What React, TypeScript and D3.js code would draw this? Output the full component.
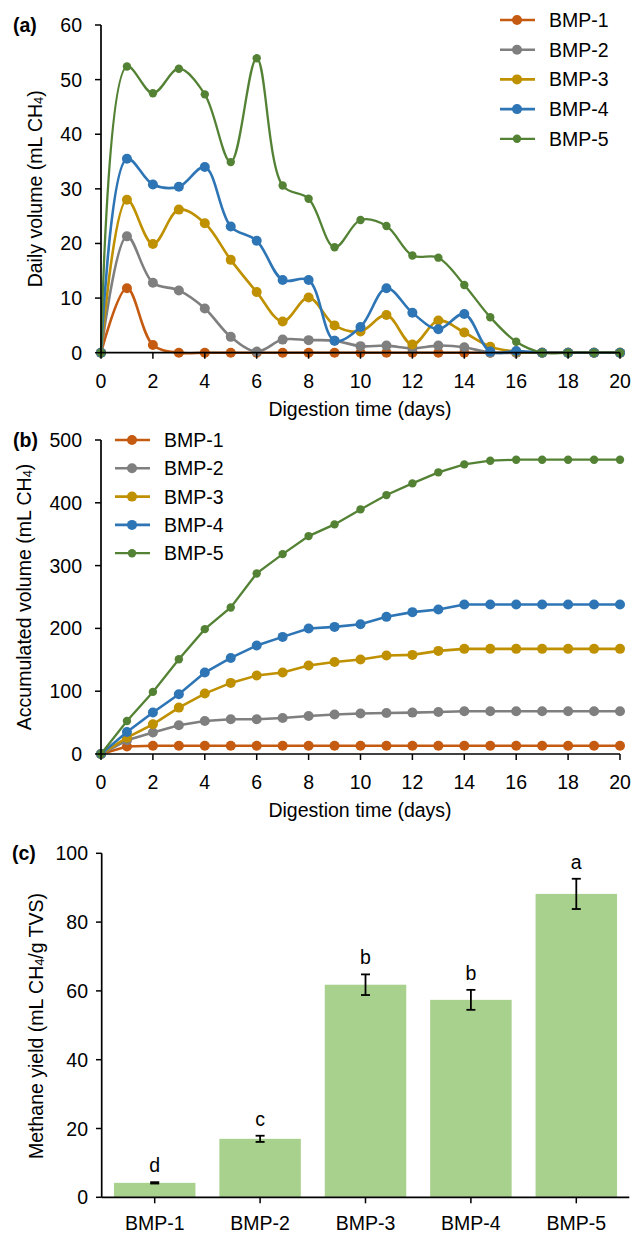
import React from "react";
import * as d3 from "d3";

const series = ["BMP-1", "BMP-2", "BMP-3", "BMP-4", "BMP-5"];
const colors = ["#C55A11", "#7F7F7F", "#BF9000", "#2E75B6", "#548235"];
const days = [0, 1, 2, 3, 4, 5, 6, 7, 8, 9, 10, 11, 12, 13, 14, 15, 16, 17, 18, 19, 20];
const xTicks = [0, 2, 4, 6, 8, 10, 12, 14, 16, 18, 20];

// (a) daily volume (mL CH4)
const daily1 = [0, 11.8, 1.4, 0, 0, 0, 0, 0, 0, 0, 0, 0, 0, 0, 0, 0, 0, 0, 0, 0, 0];
const daily2 = [0, 21.3, 12.8, 11.4, 8.1, 2.9, 0.2, 2.4, 2.3, 2.2, 1.2, 1.3, 0.8, 1.3, 1.0, 0, 0, 0, 0, 0, 0];
const daily3 = [0, 28.0, 19.9, 26.2, 23.7, 17.0, 11.1, 5.7, 10.1, 5.0, 3.9, 6.9, 1.5, 5.9, 3.7, 1.1, 0.2, 0, 0, 0, 0];
const daily4 = [0, 35.5, 30.8, 30.4, 34.0, 23.1, 20.5, 13.3, 13.3, 2.2, 4.7, 11.8, 7.3, 4.3, 7.1, 0.2, 0.3, 0, 0, 0, 0];
const daily5 = [0, 52.4, 47.5, 52.0, 47.3, 34.9, 53.9, 30.6, 28.2, 19.3, 24.3, 23.2, 17.8, 17.4, 12.4, 6.5, 2.0, 0, 0, 0, 0];
const dailyTicks = [0, 10, 20, 30, 40, 50, 60];

// (b) accumulated volume (mL CH4)
const accum1 = [0, 12.0, 13.2, 13.2, 13.2, 13.2, 13.2, 13.2, 13.2, 13.2, 13.2, 13.2, 13.2, 13.2, 13.2, 13.2, 13.2, 13.2, 13.2, 13.2, 13.2];
const accum2 = [0, 21.8, 34.1, 45.7, 52.6, 55.3, 55.3, 57.4, 60.6, 62.8, 64.4, 65.4, 65.9, 66.9, 68.0, 68.0, 68.0, 68.0, 68.0, 68.0, 68.0];
const accum3 = [0, 26.0, 47.3, 73.9, 96.2, 113.2, 124.9, 129.7, 140.9, 146.5, 150.4, 156.8, 157.8, 164.2, 167.4, 167.4, 167.4, 167.4, 167.4, 167.4, 167.4];
const accum4 = [0, 35.1, 66.0, 95.2, 129.7, 153.0, 172.8, 186.5, 199.9, 202.4, 206.7, 218.4, 225.9, 230.1, 238.1, 238.1, 238.1, 238.1, 238.1, 238.1, 238.1];
const accum5 = [0, 52.6, 98.9, 150.9, 198.8, 233.3, 287.5, 318.3, 347.0, 365.6, 389.5, 412.3, 430.9, 448.5, 461.2, 467.0, 468.6, 468.6, 468.6, 468.6, 468.6];
const accumTicks = [0, 100, 200, 300, 400, 500];

// (c) methane yield
const yields = [4.2, 17.0, 61.8, 57.4, 88.2];
const yieldErr = [0.2, 0.9, 3.0, 2.9, 4.4];
const letters = ["d", "c", "b", "b", "a"];
const yieldTicks = [0, 20, 40, 60, 80, 100];

const dailyData = [daily1, daily2, daily3, daily4, daily5];
const accumData = [accum1, accum2, accum3, accum4, accum5];

const FONT = "'Liberation Sans', Arial, Helvetica, sans-serif";
const FS = 19.5;
const AX = "#000";

function markerR(i: number) {
  return i === 4 ? 4.2 : 5;
}

function LinePanel(props: {
  data: number[][];
  yMax: number;
  yTicks: number[];
  y0: number;
  y1: number;
  smooth: boolean;
  label: string;
  legendX: number;
  legendY: number;
  legendStep: number;
  title: string;
  titleX: number;
}) {
  const { data, yMax, yTicks, y0, y1, smooth, label, legendX, legendY, legendStep, titleX } = props;
  const x = d3.scaleLinear().domain([0, 20]).range([101, 620]);
  const y = d3.scaleLinear().domain([0, yMax]).range([y0, y1]);
  const line = d3
    .line<number>()
    .x((_, i) => x(days[i]))
    .y((v) => y(v))
    .curve(smooth ? d3.curveCatmullRom.alpha(0.5) : d3.curveLinear);
  const midY = (y0 + y1) / 2;
  return (
    <g fontFamily={FONT} fontSize={FS} fill="#000">
      {/* series */}
      {data.map((s, i) => (
        <g key={i}>
          <path d={line(s) || ""} fill="none" stroke={colors[i]} strokeWidth={i === 4 ? 2.3 : 2.6} />
          {s.map((v, j) => (
            <circle key={j} cx={x(days[j])} cy={y(v)} r={markerR(i)} fill={colors[i]} />
          ))}
        </g>
      ))}
      {/* axes */}
      <line x1={101} x2={101} y1={y1} y2={y0} stroke={AX} strokeWidth={1.7} />
      <line x1={101} x2={620} y1={y0} y2={y0} stroke={AX} strokeWidth={1.7} />
      {yTicks.map((t) => (
        <g key={t}>
          <line x1={95} x2={101} y1={y(t)} y2={y(t)} stroke={AX} strokeWidth={1.5} />
          <text x={82} y={y(t)} textAnchor="end" dominantBaseline="central">
            {t}
          </text>
        </g>
      ))}
      {xTicks.map((t) => (
        <g key={t}>
          <line x1={x(t)} x2={x(t)} y1={y0} y2={y0 + 6} stroke={AX} strokeWidth={1.5} />
          <text x={x(t)} y={y0 + 28} textAnchor="middle" dominantBaseline="central">
            {t}
          </text>
        </g>
      ))}
      <text x={360} y={y0 + 56} textAnchor="middle" dominantBaseline="central">
        Digestion time (days)
      </text>
      <text
        transform={`translate(${titleX},${midY}) rotate(-90)`}
        textAnchor="middle"
        dominantBaseline="central"
      >
        {props.title}
        <tspan>(mL CH</tspan>
        <tspan fontSize={FS * 0.65} dy={4}>4</tspan>
        <tspan dy={-4}>)</tspan>
      </text>
      <text x={13} y={y1} fontWeight="bold" dominantBaseline="central">
        {label}
      </text>
      {/* legend */}
      {series.map((name, i) => {
        const ly = legendY + i * legendStep;
        return (
          <g key={name}>
            <line x1={legendX} x2={legendX + 35} y1={ly} y2={ly} stroke={colors[i]} strokeWidth={i === 4 ? 2.3 : 2.6} />
            <circle cx={legendX + 17} cy={ly} r={markerR(i)} fill={colors[i]} />
            <text x={legendX + 49} y={ly} dominantBaseline="central">
              {name}
            </text>
          </g>
        );
      })}
    </g>
  );
}

function BarPanel() {
  const x = d3.scaleBand<string>().domain(series).range([102, 629]).paddingInner(0.227).paddingOuter(0.1135);
  const y = d3.scaleLinear().domain([0, 100]).range([1197.3, 853.3]);
  const bw = x.bandwidth();
  return (
    <g fontFamily={FONT} fontSize={FS} fill="#000">
      {series.map((s, i) => {
        const cx = (x(s) as number) + bw / 2;
        const top = y(yields[i] + yieldErr[i]);
        const bot = y(yields[i] - yieldErr[i]);
        return (
          <g key={s}>
            <rect x={x(s)} y={y(yields[i])} width={bw} height={y(0) - y(yields[i])} fill="#A9D18E" />
            <line x1={cx} x2={cx} y1={top} y2={bot} stroke="#000" strokeWidth={1.8} />
            <line x1={cx - 4.5} x2={cx + 4.5} y1={top} y2={top} stroke="#000" strokeWidth={1.8} />
            <line x1={cx - 4.5} x2={cx + 4.5} y1={bot} y2={bot} stroke="#000" strokeWidth={1.8} />
            <text x={cx} y={top - 10} textAnchor="middle">
              {letters[i]}
            </text>
            <line x1={cx} x2={cx} y1={y(0)} y2={y(0) + 6} stroke={AX} strokeWidth={1.5} />
            <text x={cx} y={y(0) + 26} textAnchor="middle" dominantBaseline="central">
              {s}
            </text>
          </g>
        );
      })}
      <line x1={101.7} x2={101.7} y1={y(100)} y2={y(0)} stroke={AX} strokeWidth={1.7} />
      <line x1={101.7} x2={629.3} y1={y(0)} y2={y(0)} stroke={AX} strokeWidth={1.7} />
      {yieldTicks.map((t) => (
        <g key={t}>
          <line x1={96} x2={101.7} y1={y(t)} y2={y(t)} stroke={AX} strokeWidth={1.5} />
          <text x={88} y={y(t)} textAnchor="end" dominantBaseline="central">
            {t}
          </text>
        </g>
      ))}
      <text transform={`translate(36,1026) rotate(-90)`} textAnchor="middle" dominantBaseline="central">
        <tspan>Methane yield (mL CH</tspan>
        <tspan fontSize={FS * 0.65} dy={4}>4</tspan>
        <tspan dy={-4}>/g TVS)</tspan>
      </text>
      <text x={12} y={853} fontWeight="bold" dominantBaseline="central">
        (c)
      </text>
    </g>
  );
}

export default function App() {
  return (
    <svg
      width={633}
      height={1233}
      viewBox="0 0 633 1233"
      style={{ position: "absolute", left: 0, top: 0, display: "block", background: "#fff" }}
    >
      <rect width={633} height={1233} fill="#fff" />
      <LinePanel
        data={dailyData}
        yMax={60}
        yTicks={dailyTicks}
        y0={352.7}
        y1={25}
        smooth={true}
        label="(a)"
        legendX={500}
        legendY={20}
        legendStep={29.7}
        title="Daily volume "
        titleX={35}
      />
      <LinePanel
        data={accumData}
        yMax={500}
        yTicks={accumTicks}
        y0={754}
        y1={440}
        smooth={false}
        label="(b)"
        legendX={115}
        legendY={440}
        legendStep={28.3}
        title="Accumulated volume "
        titleX={24}
      />
      <BarPanel />
    </svg>
  );
}
